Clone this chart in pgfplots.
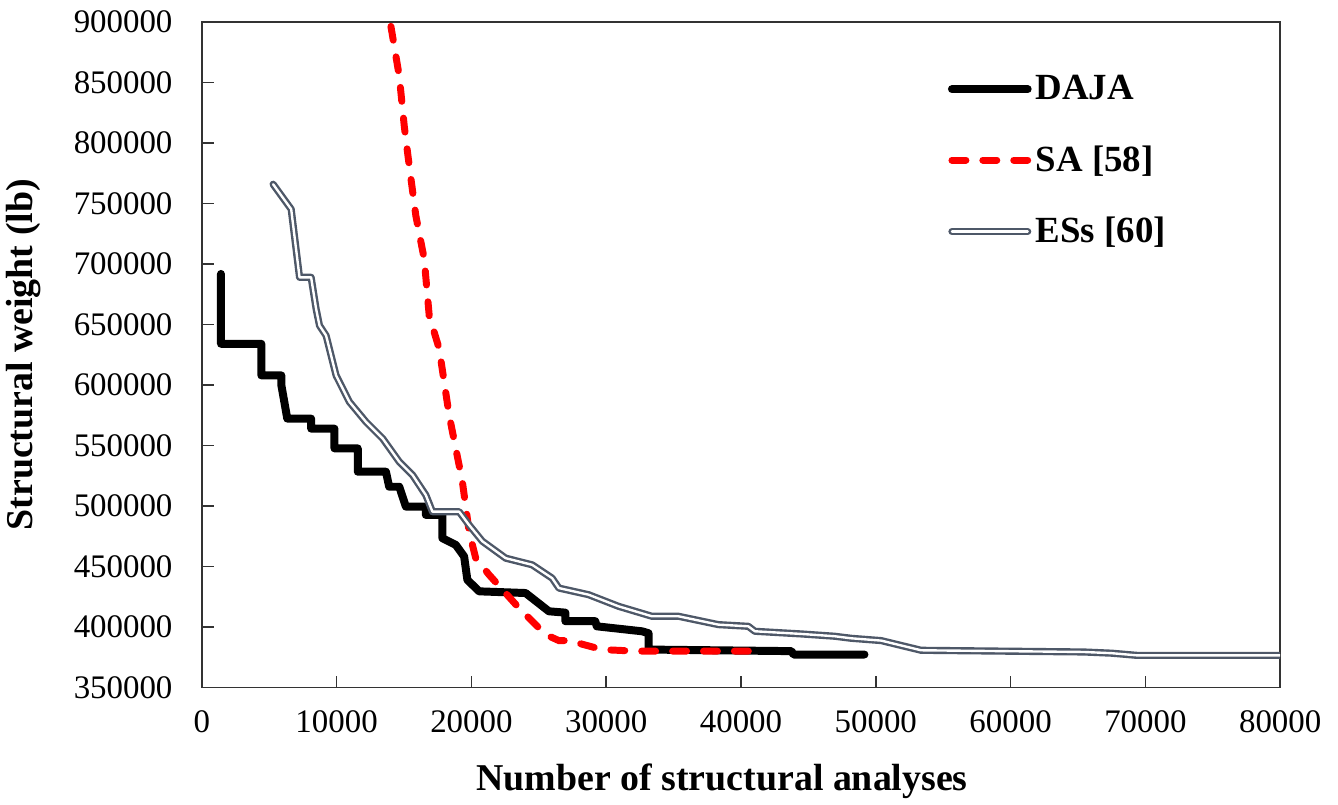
\documentclass[border=0pt]{standalone}
\usepackage{fontspec}
\setmainfont{Liberation Serif}
\usepackage{pgfplots}
\pgfplotsset{compat=1.18}
\definecolor{esgray}{RGB}{78,88,104}
\begin{document}
\begin{tikzpicture}
\begin{axis}[
  name=ax,
  scale only axis,
  width=541pt, height=334pt,
  xmin=0, xmax=80000, ymin=350000, ymax=900000,
  xtick={0,10000,20000,30000,40000,50000,60000,70000,80000},
  ytick={350000,400000,450000,500000,550000,600000,650000,700000,750000,800000,850000,900000},
  scaled x ticks=false, scaled y ticks=false,
  /pgf/number format/.cd, fixed, precision=0, 1000 sep={}, assume math mode=true,
  /pgfplots/.cd,
  tick label style={font=\fontsize{16.5}{19}\selectfont},
  tick align=inside,
  major tick length=6pt,
  axis line style={black!80, line width=0.8pt},
  tick style={black!80, line width=0.8pt},
  xtick pos=bottom, ytick pos=left,
  xticklabel style={yshift=-8pt},
  yticklabel style={xshift=-11.2pt},
  xlabel={Number of structural analyses},
  ylabel={Structural weight (lb)},
  label style={font=\fontsize{19}{22}\selectfont\bfseries},
  xlabel style={yshift=-8.5pt, xshift=-9.5pt},
  ylabel style={at={([xshift=-77pt]rel axis cs:0,0.5)}, anchor=south},
  legend style={draw=none, fill=none, at={(0.686,0.932)}, anchor=north west,
    font=\fontsize{18.5}{22}\selectfont\bfseries, row sep=17.5pt,
    nodes={inner xsep=2pt}},
  legend cell align=left,
  legend image code/.code={\draw[#1] (0pt,0pt) -- (38pt,0pt);},
]
\addplot[black, line width=4pt, line join=round, line cap=round] coordinates {
(1420,691800) (1420,634100) (4416,634100) (4416,608000) (5900,608000) (5900,600000)
(6340,572300) (8110,572300) (8110,564000) (9840,564000) (9840,547700) (11570,547700)
(11570,528400) (13660,528400) (13900,516000) (14650,516000) (15140,499600) (16620,499600)
(16620,492700) (17850,492700) (17850,473500) (18840,468000) (19460,458400) (19700,439100)
(20570,429600) (24020,428200) (25750,413100) (26970,412000) (26970,404900) (29190,404900)
(29300,400700) (32650,396600) (33140,395000) (33140,381500) (43740,380200) (43900,377400)
(49160,377400)
};
\addlegendentry{DAJA}
\addplot[red, line width=3.5pt, line cap=round, dash pattern=on 7pt off 8.5pt] coordinates {
(14030,896300) (14650,855100) (15020,813900) (15390,781000) (15880,739800) (16500,704100)
(16870,657400) (17610,630000) (18350,575100) (19330,520200) (19830,479000) (20320,457000)
(21310,443300) (23530,415800) (25500,393900) (26490,388900) (27230,388900) (29690,381500)
(32150,380200) (41770,380200)
};
\addlegendentry{SA [58]}
\addplot[esgray, line width=1.2pt, double=white, double distance=1.2pt, line join=round, line cap=round] coordinates {
(5290,765900) (6630,745300) (7250,689000) (8110,689000) (8480,662900) (8730,649200)
(9220,640900) (9960,608000) (10950,586100) (12180,569600) (13420,555800) (14650,536600)
(15640,525600) (16620,509100) (17110,495400) (19090,495400) (19830,484400) (20810,471000)
(22540,457000) (24510,451500) (25990,440500) (26490,432300) (28700,426800) (30920,417200)
(33390,409000) (35360,409000) (38320,402100) (40540,400700) (41030,396600) (44480,394400)
(46950,392500) (48180,390800) (50400,388900) (53360,380900) (65430,379500) (67500,378500)
(69380,376700) (80000,376700)
};
\addlegendentry{ESs [60]}
\end{axis}
\path (ax.south west) ++(-99pt,-53pt);
\path (ax.north east) ++(29pt,11pt);
\end{tikzpicture}
\end{document}
